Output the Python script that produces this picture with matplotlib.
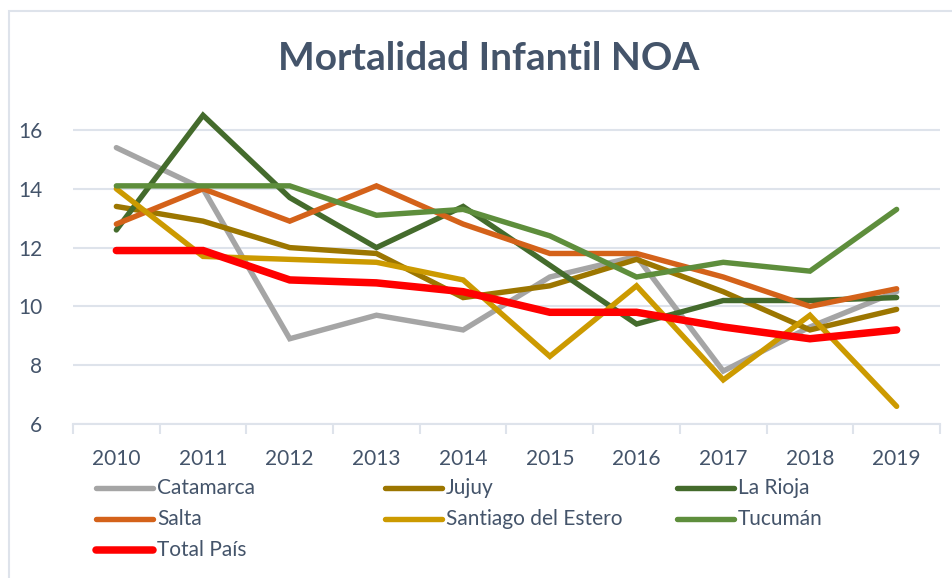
import matplotlib.pyplot as plt
from matplotlib.lines import Line2D
from matplotlib.patches import Rectangle

plt.rcParams['font.family'] = ['Lato', 'DejaVu Sans']

years = [2010, 2011, 2012, 2013, 2014, 2015, 2016, 2017, 2018, 2019]

catamarca = [15.4, 14.0, 8.9, 9.7, 9.2, 11.0, 11.7, 7.8, 9.3, 10.5]
jujuy = [13.4, 12.9, 12.0, 11.8, 10.3, 10.7, 11.6, 10.5, 9.2, 9.9]
la_rioja = [12.6, 16.5, 13.7, 12.0, 13.4, 11.4, 9.4, 10.2, 10.2, 10.3]
salta = [12.8, 14.0, 12.9, 14.1, 12.8, 11.8, 11.8, 11.0, 10.0, 10.6]
santiago = [14.0, 11.7, 11.6, 11.5, 10.9, 8.3, 10.7, 7.5, 9.7, 6.6]
tucuman = [14.1, 14.1, 14.1, 13.1, 13.3, 12.4, 11.0, 11.5, 11.2, 13.3]
total_pais = [11.9, 11.9, 10.9, 10.8, 10.5, 9.8, 9.8, 9.3, 8.9, 9.2]

names = ["Catamarca", "Jujuy", "La Rioja", "Salta",
         "Santiago del Estero", "Tucumán", "Total País"]
series = [catamarca, jujuy, la_rioja, salta, santiago, tucuman, total_pais]
colors = ["#A5A5A5", "#9C7600", "#446B2C", "#D4621A",
          "#CC9A00", "#5E8E3C", "#FF0000"]
widths = [3.9, 3.9, 3.9, 3.9, 3.9, 3.9, 5.4]

text_col = "#44546A"
grid_col = "#DEE3EB"

fig = plt.figure(figsize=(9.53, 5.78), dpi=100)
W, H = 953, 578


def fx(px):
    return px / W


def fy(py):
    return 1 - py / H


# outer chart frame
fig.patches.append(Rectangle((fx(9), fy(590)), fx(960) - fx(9), fy(11) - fy(590),
                             transform=fig.transFigure, fill=False,
                             edgecolor=grid_col, linewidth=1.5))

ax = fig.add_axes([fx(73), fy(424), fx(940) - fx(73), fy(100.6) - fy(424)])

for vals, c, lw in zip(series, colors, widths):
    ax.plot(years, vals, color=c, linewidth=lw, solid_capstyle='round',
            solid_joinstyle='miter', clip_on=False)

ax.set_xlim(2009.5, 2019.5)
ax.set_ylim(6, 17)
ax.set_yticks(range(6, 17, 2))
ax.set_xticks(years)
ax.set_xticks([y + 0.5 for y in [2009] + years], minor=True)
ax.grid(axis='y', color=grid_col, linewidth=1.5)
ax.set_axisbelow(True)
for s in ['top', 'right', 'left']:
    ax.spines[s].set_visible(False)
ax.spines['bottom'].set_color(grid_col)
ax.spines['bottom'].set_linewidth(1.5)
ax.tick_params(axis='y', length=0, pad=22, labelsize=15, labelcolor=text_col)
ax.tick_params(axis='x', which='major', length=0, pad=18, labelsize=15,
               labelcolor=text_col)
ax.tick_params(axis='x', which='minor', length=7, width=1.5, color=grid_col)

fig.text(fx(489), fy(58), "Mortalidad Infantil NOA", ha='center', va='center',
         fontsize=28, fontweight='bold', color=text_col)

# legend, three columns in row order
col_x = [96, 385, 677]
row_y = [488, 519, 550]
for i, (name, c, lw) in enumerate(zip(names, colors, widths)):
    x0 = col_x[i % 3]
    y0 = row_y[i // 3]
    fig.lines.append(Line2D([fx(x0), fx(x0 + 57)], [fy(y0), fy(y0)],
                            transform=fig.transFigure, color=c, linewidth=lw,
                            solid_capstyle='round'))
    fig.text(fx(x0 + 61), fy(y0), name, ha='left', va='center',
             fontsize=15, color=text_col)

fig.savefig("out.png", dpi=100)
